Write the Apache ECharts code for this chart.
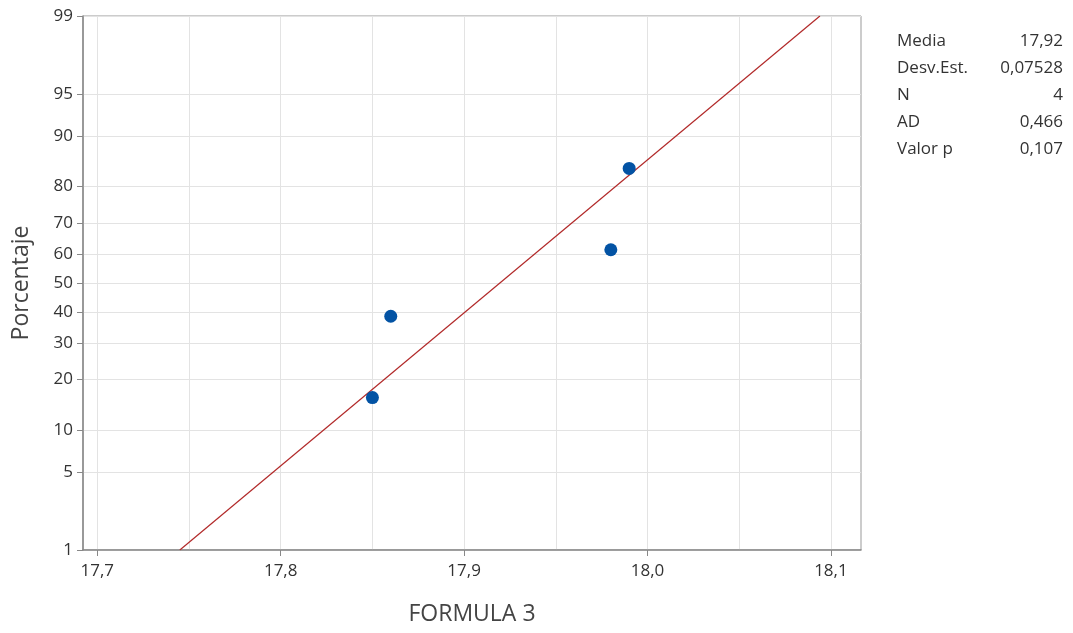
<!DOCTYPE html>
<html>
<head>
<meta charset="utf-8">
<script src="https://cdn.jsdelivr.net/npm/echarts@6/dist/echarts.min.js"></script>
<style>
  html, body { margin: 0; padding: 0; background: #fff; }
  #main { width: 1073px; height: 633px; }
</style>
</head>
<body>
<div id="main"></div>
<script>
// valores medidos (FORMULA 3) y su porcentaje en el gráfico
var formulaValues = [17.85, 17.86, 17.98, 17.99];
var formulaPct = [15.9, 38.6, 61.4, 84.1];

var fitX = [17.745, 18.094];
var fitPct = [1, 99];

// marcas de los ejes
var pctTicks = [1, 5, 10, 20, 30, 40, 50, 60, 70, 80, 90, 95, 99];
var xLabelTicks = [17.7, 17.8, 17.9, 18.0, 18.1];
var xGridTicks = [17.7, 17.75, 17.8, 17.85, 17.9, 17.95, 18.0, 18.05, 18.1];

// tabla de estadísticos
var statNames = ['Media', 'Desv.Est.', 'N', 'AD', 'Valor p'];
var statValues = ['17,92', '0,07528', '4', '0,466', '0,107'];

// inversa de la normal (Acklam), para la escala de probabilidad
function normInv(p) {
    var a = [-3.969683028665376e+01, 2.209460984245205e+02, -2.759285104469687e+02, 1.383577518672690e+02, -3.066479806614716e+01, 2.506628277459239e+00];
    var b = [-5.447609879822406e+01, 1.615858368580409e+02, -1.556989798598866e+02, 6.680131188771972e+01, -1.328068155288572e+01];
    var c = [-7.784894002430293e-03, -3.223964580411365e-01, -2.400758277161838e+00, -2.549732539343734e+00, 4.374664141464968e+00, 2.938163982698783e+00];
    var d = [7.784695709041462e-03, 3.224671290700398e-01, 2.445134137142996e+00, 3.754408661907416e+00];
    var pl = 0.02425, q, r;
    if (p < pl) {
        q = Math.sqrt(-2 * Math.log(p));
        return (((((c[0] * q + c[1]) * q + c[2]) * q + c[3]) * q + c[4]) * q + c[5]) / ((((d[0] * q + d[1]) * q + d[2]) * q + d[3]) * q + 1);
    }
    if (p <= 1 - pl) {
        q = p - 0.5; r = q * q;
        return (((((a[0] * r + a[1]) * r + a[2]) * r + a[3]) * r + a[4]) * r + a[5]) * q / (((((b[0] * r + b[1]) * r + b[2]) * r + b[3]) * r + b[4]) * r + 1);
    }
    q = Math.sqrt(-2 * Math.log(1 - p));
    return -(((((c[0] * q + c[1]) * q + c[2]) * q + c[3]) * q + c[4]) * q + c[5]) / ((((d[0] * q + d[1]) * q + d[2]) * q + d[3]) * q + 1);
}

var zTicks = pctTicks.map(function (p) { return normInv(p / 100); });
var scatterData = formulaValues.map(function (x, i) { return [x, normInv(formulaPct[i] / 100)]; });
var fitData = fitX.map(function (x, i) { return [x, normInv(fitPct[i] / 100)]; });

var font = '"Open Sans", "Noto Sans", sans-serif';

var myChart = echarts.init(document.getElementById('main'));

var option = {
    backgroundColor: '#fff',
    animation: false,
    grid: {
        left: 83, right: 212, top: 16, bottom: 83,
        show: true, borderColor: '#999', borderWidth: 1, backgroundColor: 'transparent'
    },
    xAxis: [
        {
            type: 'value', min: 17.6922, max: 18.1164,
            name: 'FORMULA 3', nameLocation: 'middle', nameGap: 53,
            nameTextStyle: { fontFamily: font, fontSize: 23, color: '#444' },
            axisLine: { show: true, onZero: false, lineStyle: { color: '#888', width: 1.5 } },
            axisTick: { show: true, length: 6, customValues: xLabelTicks, lineStyle: { color: '#888' } },
            axisLabel: {
                customValues: xLabelTicks, fontFamily: font, fontSize: 17, color: '#333', margin: 13,
                formatter: function (v) { return v.toFixed(1).replace('.', ','); }
            },
            splitLine: { show: false }
        },
        {
            type: 'value', min: 17.6922, max: 18.1164, position: 'bottom',
            axisLine: { show: false }, axisLabel: { show: false },
            axisTick: { show: false, customValues: xGridTicks },
            splitLine: { show: true, lineStyle: { color: '#e3e3e3', width: 1 } }
        }
    ],
    yAxis: {
        type: 'value', min: zTicks[0], max: zTicks[zTicks.length - 1],
        name: 'Porcentaje', nameLocation: 'middle', nameGap: 50,
        nameTextStyle: { fontFamily: font, fontSize: 23, color: '#444' },
        axisLine: { show: true, onZero: false, lineStyle: { color: '#888', width: 1.5 } },
        axisTick: { show: true, length: 6, customValues: zTicks, lineStyle: { color: '#888' } },
        axisLabel: {
            customValues: zTicks, fontFamily: font, fontSize: 17, color: '#333', margin: 10,
            formatter: function (v) {
                var best = 0;
                for (var i = 1; i < zTicks.length; i++) {
                    if (Math.abs(zTicks[i] - v) < Math.abs(zTicks[best] - v)) best = i;
                }
                return String(pctTicks[best]);
            }
        },
        splitLine: { show: true, lineStyle: { color: '#e3e3e3', width: 1 } }
    },
    series: [
        {
            type: 'line', data: fitData, xAxisIndex: 0,
            symbol: 'none', lineStyle: { color: '#b22a2a', width: 1.2 }, z: 2
        },
        {
            type: 'scatter', data: scatterData, xAxisIndex: 0,
            symbol: 'circle', symbolSize: 13, itemStyle: { color: '#0353a4', opacity: 1 }, z: 3
        }
    ],
    graphic: [
        {
            type: 'text', x: 897, y: 27.5,
            style: { text: statNames.join('\n'), fontFamily: font, fontSize: 17, lineHeight: 27, fill: '#333' }
        },
        {
            type: 'text', x: 1063, y: 27.5,
            style: { text: statValues.join('\n'), fontFamily: font, fontSize: 17, lineHeight: 27, fill: '#333', align: 'right' }
        }
    ]
};

myChart.setOption(option);
</script>
</body>
</html>
